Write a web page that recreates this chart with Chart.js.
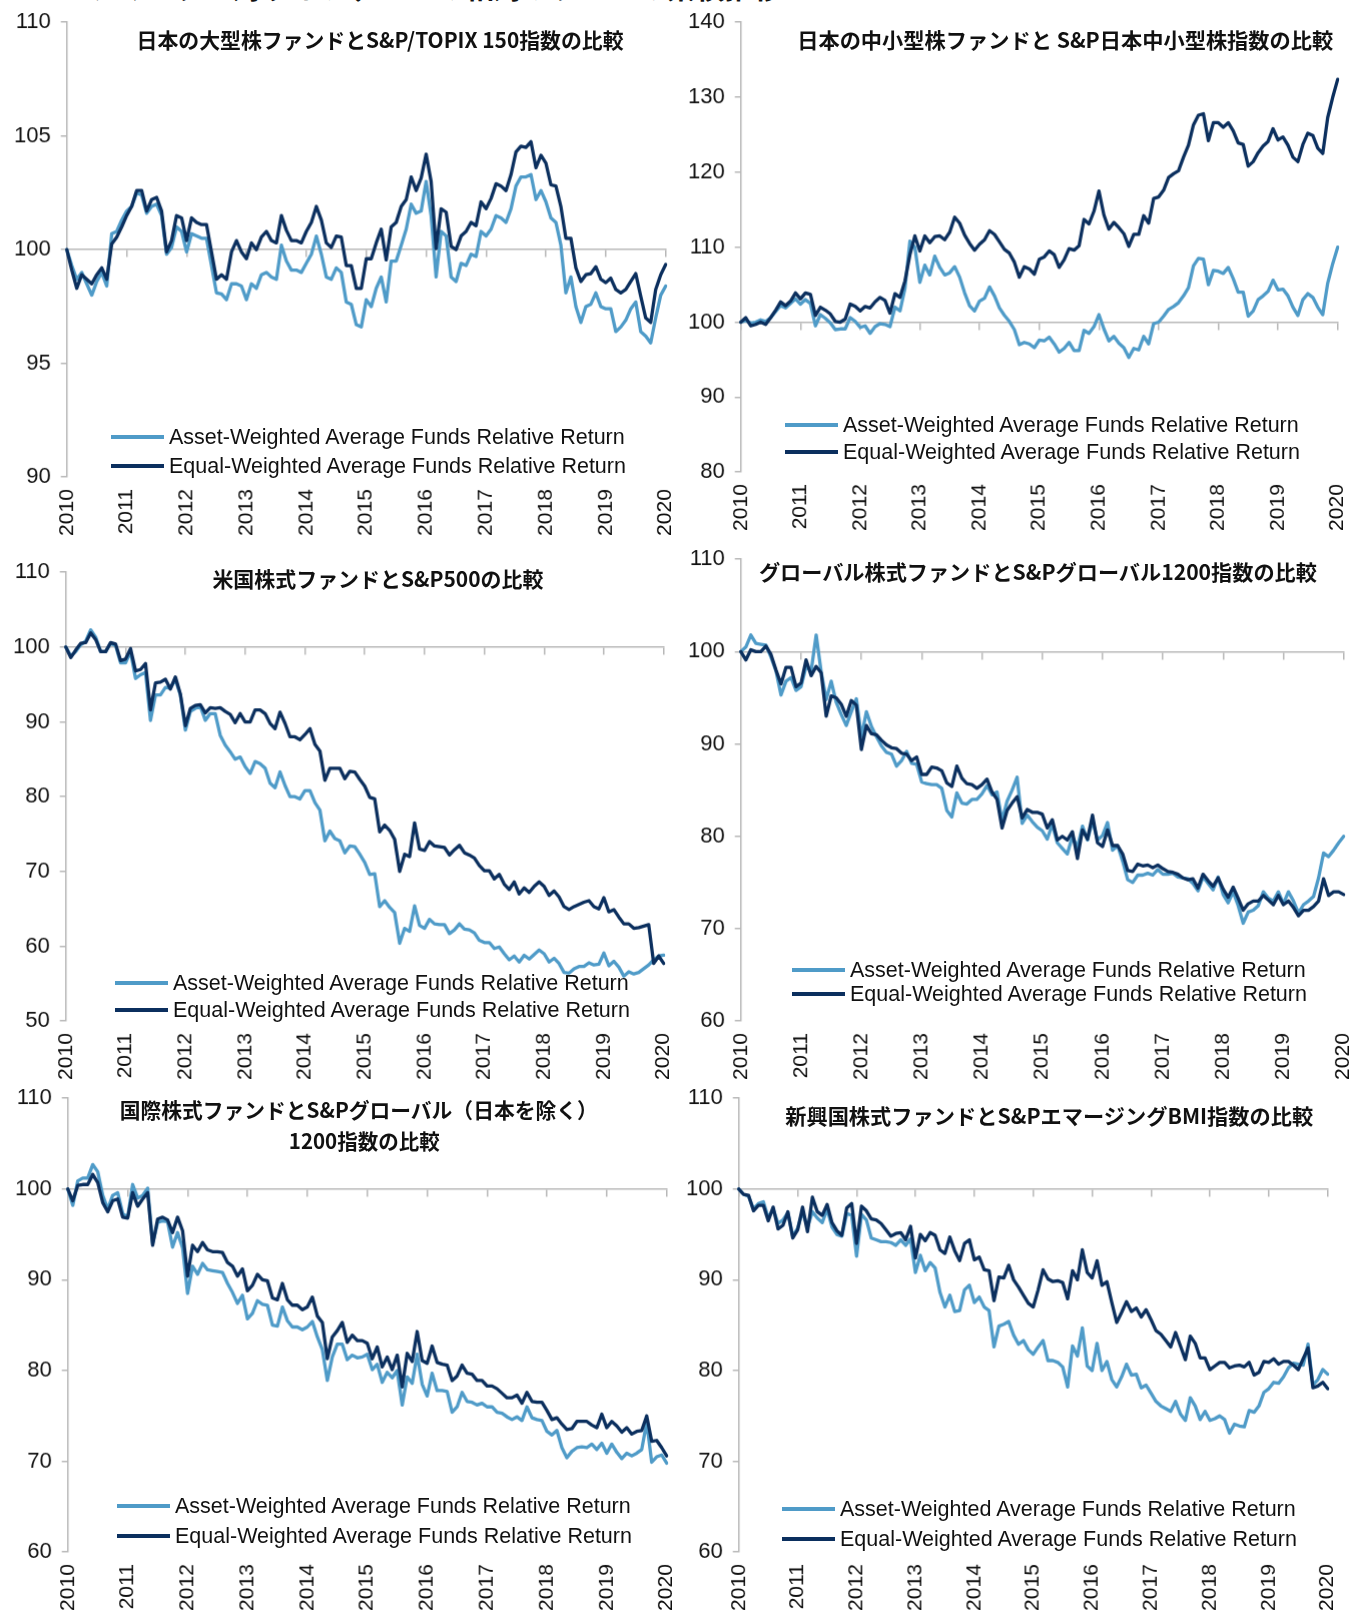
<!DOCTYPE html>
<html lang="ja">
<head>
<meta charset="utf-8">
<title>ファンドと指数の比較</title>
<script src="https://cdn.jsdelivr.net/npm/chart.js@4.4.1/dist/chart.umd.min.js"></script>
<style>
  html, body { margin: 0; padding: 0; background: #fff; }
  body { position: relative; width: 1356px; height: 1610px; overflow: hidden; font-family: "Liberation Sans", Arial, sans-serif; }
  .panel { position: absolute; }
  .panel canvas { display: block; }
  .title { position: absolute; font-family: "Noto Sans CJK JP", sans-serif; font-weight: 700; font-size: 21px; line-height: 1; color: #111; white-space: nowrap; }
  .leg { position: absolute; height: 26px; display: flex; align-items: center; white-space: nowrap; font-size: 21.5px; color: #111; }
  .leg i { display: inline-block; width: 53px; height: 4px; margin-right: 5px; }
  .header { position: absolute; left: 30px; top: -28px; font-family: "Noto Sans CJK JP", sans-serif; font-weight: 700; font-size: 29px; line-height: 1; color: #111; white-space: nowrap; }
</style>
</head>
<body>
<div class="header">ベンチマークに対するファンドの相対リターンの累積推移</div>
<script>
// ---------------------------------------------------------------
// データ（2010年1月〜2020年1月、月次、2010年1月=100）
// ---------------------------------------------------------------
const years = ['2010', '2011', '2012', '2013', '2014', '2015', '2016', '2017', '2018', '2019', '2020'];

// 日本の大型株
const lgAsset = [
  100, 99.3, 98.7, 99.0, 98.5, 98.0, 98.6, 99.0, 98.4, 100.7, 100.8, 101.3,
  101.7, 101.9, 102.5, 102.4, 101.6, 101.9, 102.0, 101.5, 99.8, 100.1, 101.0, 100.8,
  99.9, 100.7, 100.6, 100.5, 100.5, 99.3, 98.1, 98.05, 97.8, 98.5, 98.5, 98.4,
  97.8, 98.5, 98.3, 98.9, 99.0, 98.8, 98.7, 100.2, 99.5, 99.1, 99.1, 99.0,
  99.4, 99.8, 100.6, 99.8, 98.8, 98.7, 99.2, 99.0, 97.7, 97.6, 96.7, 96.6,
  97.8, 97.5, 98.3, 98.8, 97.7, 99.5, 99.5, 100.2, 100.9, 102.0, 101.6, 101.7,
  103.0, 101.5, 98.8, 100.8, 100.6, 98.8, 98.6, 99.4, 99.3, 99.8, 99.7, 100.8,
  100.6, 100.9, 101.5, 101.4, 101.2, 101.8, 102.8, 103.2, 103.2, 103.3, 102.2, 102.6,
  102.1, 101.4, 101.2, 100.2, 98.1, 98.8, 97.5, 96.8, 97.5, 97.6, 98.1, 97.5,
  97.4, 97.4, 96.4, 96.6, 96.9, 97.4, 97.7, 96.4, 96.2, 95.9, 97.0, 98.0,
  98.4
];
const lgEqual = [
  100, 99.1, 98.3, 98.9, 98.7, 98.5, 98.9, 99.2, 98.7, 100.25, 100.55, 101.0,
  101.5, 101.9, 102.6, 102.6, 101.7, 102.2, 102.3, 101.7, 99.9, 100.4, 101.5, 101.4,
  100.4, 101.4, 101.2, 101.1, 101.1, 99.9, 98.7, 98.9, 98.7, 99.9, 100.4, 99.9,
  99.6, 100.3, 100.0, 100.55, 100.8, 100.4, 100.3, 101.5, 100.85, 100.4, 100.4, 100.3,
  100.8, 101.2, 101.9, 101.3, 100.3, 100.1, 100.6, 100.55, 99.3, 99.3, 98.3, 98.3,
  99.6, 99.6, 100.3, 100.9, 99.55, 101.0, 101.2, 101.9, 102.2, 103.2, 102.6, 103.15,
  104.2, 103.0, 100.05, 101.8, 101.65, 100.15, 100.0, 100.6, 100.8, 101.2, 101.05, 102.1,
  101.8, 102.25, 102.9, 102.8, 102.6, 103.3, 104.3, 104.55, 104.5, 104.75, 103.6, 104.15,
  103.8, 102.85, 102.8, 101.9, 100.5, 100.5, 99.2, 98.6, 98.9, 98.95, 99.25, 98.7,
  98.55, 98.75, 98.25, 98.1, 98.25, 98.6, 98.95, 97.95, 97.0, 96.8, 98.25, 98.9,
  99.35
];

// 日本の中小型株
const smAsset = [
  100, 100.2, 99.9, 100.0, 100.3, 100.1, 100.6, 101.4, 102.2, 101.9, 102.5, 103.1,
  102.4, 103.0, 102.5, 99.5, 101.0, 100.5, 99.9, 99.0, 99.1, 99.1, 100.6, 100.1,
  99.3, 99.5, 98.5, 99.4, 99.8, 99.7, 99.4, 102.0, 101.5, 104.5, 110.8, 110.0,
  105.3, 107.6, 106.3, 108.8, 107.3, 106.3, 106.6, 107.4, 106.0, 103.9, 102.2, 101.5,
  102.8, 103.2, 104.7, 103.5, 101.9, 100.9, 100.1, 99.0, 97.0, 97.3, 97.1, 96.6,
  97.6, 97.5, 98.0, 97.1, 96.0, 96.5, 97.3, 96.2, 96.2, 98.9, 98.5, 99.4,
  101.0, 99.1, 97.5, 98.1, 97.2, 96.6, 95.3, 96.5, 96.3, 98.1, 97.1, 99.8,
  100.0, 100.8, 101.7, 102.1, 102.6, 103.5, 104.6, 107.5, 108.5, 108.4, 105.0, 106.9,
  106.8, 106.5, 107.3, 105.8, 104.0, 104.0, 100.8, 101.5, 103.0, 103.5, 104.1, 105.6,
  104.3, 104.4, 103.5, 102.0, 100.9, 103.0, 103.8, 103.3, 102.0, 101.0, 105.2, 107.8,
  110.0
];
const smEqual = [
  100, 100.6, 99.5, 99.7, 100.0, 99.7, 100.6, 101.6, 102.7, 102.2, 102.8, 103.9,
  103.1, 103.9, 103.7, 100.9, 102.0, 101.6, 101.1, 100.1, 100.0, 100.4, 102.4, 102.1,
  101.5, 102.1, 101.9, 102.7, 103.3, 102.9, 101.2, 103.8, 103.3, 105.5, 109.0, 111.5,
  109.5, 111.5, 110.6, 111.4, 111.5, 111.0, 112.0, 114.0, 113.2, 111.6, 110.5, 109.6,
  110.4, 111.0, 112.2, 111.7, 110.7, 109.7, 109.2, 108.0, 106.0, 107.4, 107.1, 106.4,
  108.4, 108.7, 109.5, 109.0, 107.3, 108.3, 109.8, 109.6, 110.2, 113.7, 113.1, 114.8,
  117.5, 114.3, 112.4, 113.3, 112.6, 111.8, 110.1, 111.7, 111.7, 114.2, 113.2, 116.5,
  116.7, 117.6, 119.3, 119.8, 120.2, 122.0, 123.6, 126.3, 127.6, 127.8, 124.2, 126.6,
  126.6, 126.0, 126.6, 125.5, 123.9, 123.7, 120.8, 121.4, 122.6, 123.5, 124.1, 125.8,
  124.3, 124.7, 123.6, 122.0, 121.4, 123.7, 125.2, 124.9, 123.2, 122.5, 127.3, 130.0,
  132.4
];

// 米国株式
const usAsset = [
  100, 98.8, 99.4, 100.3, 100.8, 102.3, 101.3, 99.4, 99.4, 100.5, 100.2, 97.9,
  97.9, 99.4, 95.8, 96.3, 96.6, 90.2, 93.6, 93.6, 94.6, 94.5, 95.7, 93.6,
  88.9, 91.4, 91.8, 92.1, 90.2, 91.1, 91.1, 88.2, 86.9, 86.0, 85.0, 85.3,
  84.0, 83.1, 84.7, 84.4, 83.8, 81.8, 81.2, 83.3, 81.5, 80.0, 80.0, 79.7,
  80.8, 80.8, 79.2, 78.2, 74.1, 75.4, 74.4, 74.1, 72.5, 73.4, 73.3, 72.3,
  71.2, 69.6, 69.7, 65.3, 66.1, 65.2, 64.5, 60.4, 62.4, 62.0, 65.4, 62.8,
  62.4, 63.6, 63.0, 62.9, 62.9, 61.7, 62.2, 63.0, 62.3, 62.2, 61.8, 60.8,
  60.5, 60.5, 59.7, 59.9, 59.0, 58.2, 58.7, 57.9, 58.8, 58.3, 58.9, 59.5,
  59.0, 57.9, 58.4, 57.7, 56.5, 56.4, 57.0, 57.3, 57.3, 57.8, 57.5, 57.6,
  59.1, 57.4, 58.0, 57.2, 56.0, 56.6, 56.3, 56.5, 57.0, 57.5, 58.2, 58.7,
  58.8
];
const usEqual = [
  100, 98.6, 99.6, 100.5, 100.6, 101.9, 101.0, 99.4, 99.4, 100.6, 100.4, 98.2,
  98.4, 99.8, 96.8, 97.0, 97.8, 91.6, 95.2, 95.3, 95.7, 94.4, 96.0, 93.7,
  89.5, 91.8, 92.2, 92.3, 91.2, 91.9, 91.8, 91.9, 91.4, 91.0, 89.9, 91.1,
  90.0, 90.0, 91.6, 91.6, 91.1, 89.8, 89.1, 91.3, 89.8, 88.0, 88.0, 87.6,
  88.3, 89.1, 87.0, 86.1, 82.2, 83.8, 83.8, 83.8, 82.4, 83.4, 83.3, 82.3,
  81.4, 79.9, 79.7, 75.3, 76.2, 75.5, 74.3, 70.0, 72.3, 72.0, 76.5, 73.0,
  72.8, 74.0, 73.4, 73.3, 73.2, 72.2, 72.9, 73.5, 72.5, 72.2, 71.8, 70.8,
  70.1, 70.1, 69.0, 69.6, 68.3, 67.6, 68.6, 67.0, 67.8, 67.2, 68.0, 68.6,
  68.0, 66.8, 67.4, 66.6, 65.3, 64.9, 65.3, 65.6, 65.9, 66.1, 65.3, 65.0,
  66.5, 64.6, 64.9, 63.9, 63.0, 63.0, 62.4, 62.5, 62.7, 62.9, 57.7, 58.7,
  57.7
];

// グローバル株式
const glAsset = [
  100, 100.5, 101.8, 100.9, 100.8, 100.7, 99.4, 97.9, 95.3, 96.8, 97.2, 95.8,
  96.2, 98.4, 97.9, 101.8, 97.8, 94.8, 96.8, 94.5, 93.2, 92.0, 93.5, 94.9,
  90.8, 93.5, 91.9, 90.8, 89.8, 89.1, 88.9, 87.6, 88.2, 89.2, 87.9, 87.8,
  85.9, 85.7, 85.6, 85.6, 85.2, 82.8, 82.1, 84.7, 83.6, 83.5, 84.0, 84.0,
  84.6, 85.5, 84.5, 84.8, 81.7, 83.8, 85.0, 86.4, 81.4, 82.3, 81.6, 81.0,
  80.6, 79.7, 81.3, 79.3, 78.7, 78.1, 80.0, 78.8, 81.1, 79.6, 81.7, 79.6,
  80.1, 81.5, 78.5, 79.0, 77.3, 75.3, 75.0, 75.8, 75.8, 76.0, 75.8, 76.4,
  75.9, 75.9, 76.0, 75.6, 75.5, 75.4, 74.9, 74.1, 75.6, 74.9, 74.2, 75.6,
  73.7, 72.8, 74.0, 72.5, 70.6, 71.8, 72.0, 72.5, 74.0, 73.3, 73.0, 74.0,
  72.7, 74.0, 73.0, 71.7, 72.6, 73.0, 73.5, 75.5, 78.2, 77.8, 78.5, 79.3,
  80.0
];
const glEqual = [
  100, 99.1, 100.2, 100.0, 100.0, 100.6, 99.7, 98.0, 96.5, 98.3, 98.3, 96.2,
  96.6, 99.1, 97.4, 98.4, 97.7, 93.0, 95.2, 95.0, 94.3, 93.0, 94.7, 94.2,
  89.4, 92.0, 91.1, 91.0, 90.4, 89.9, 89.6, 89.5, 89.0, 88.9, 88.2, 88.6,
  86.7, 86.7, 87.5, 87.4, 87.1, 85.8, 85.4, 87.6, 86.3, 85.7, 85.6, 85.2,
  85.6, 86.2, 84.8, 84.0, 80.9, 82.8, 83.6, 84.3, 82.0, 82.9, 82.6, 82.6,
  82.4, 80.9, 81.8, 79.6, 80.0, 79.6, 80.5, 77.6, 80.7, 79.7, 82.3, 79.3,
  78.9, 80.7, 79.0, 79.0, 78.1, 76.3, 76.2, 77.0, 76.8, 76.9, 76.6, 76.9,
  76.5, 76.2, 76.1, 75.9, 75.5, 75.3, 75.4, 74.4, 75.9, 75.2, 74.6, 75.5,
  74.3, 73.4, 74.5, 73.3, 72.0, 72.7, 73.0, 73.0, 73.6, 73.1, 72.6, 73.6,
  72.6, 73.0, 72.3, 71.4, 72.0, 72.0, 72.4, 73.0, 75.4, 73.6, 74.0, 74.0,
  73.7
];

// 国際株式（日本を除く）
const intlAsset = [
  100, 98.2, 100.9, 101.2, 101.2, 102.7, 101.9, 99.3, 97.8, 99.3, 99.6, 97.3,
  96.9, 100.5, 99.0, 99.3, 100.1, 94.0, 96.3, 96.5, 96.4, 93.6, 95.2, 93.5,
  88.5, 91.5, 90.6, 91.8, 91.1, 91.0, 90.9, 90.8, 89.6, 88.6, 87.4, 88.3,
  85.7, 86.3, 87.7, 87.3, 87.2, 85.0, 84.9, 87.0, 85.5, 84.8, 84.8, 84.5,
  84.8, 85.4, 83.7, 82.3, 78.9, 81.5, 82.9, 82.9, 81.2, 81.7, 81.4, 81.5,
  81.8, 80.1, 80.7, 78.7, 79.8, 79.2, 80.0, 76.2, 79.3, 78.6, 81.8, 78.5,
  77.2, 79.7, 77.8, 77.8, 77.7, 75.4, 76.0, 77.6, 76.6, 76.5, 76.2, 76.4,
  76.0, 76.0, 75.4, 75.3, 74.9, 74.6, 74.9, 74.5, 76.0, 74.8, 74.6, 74.5,
  73.3, 72.9, 73.4, 71.5, 70.4, 71.1, 71.5, 71.6, 71.5, 71.9, 71.3, 72.0,
  70.9, 71.9, 71.0, 70.3, 70.9, 70.6, 70.9, 71.3, 74.3, 69.9, 70.5, 70.7,
  69.8
];
const intlEqual = [
  100, 98.7, 100.4, 100.5, 100.5, 101.6, 100.7, 98.5, 97.5, 98.7, 98.9, 96.9,
  96.8, 99.6, 98.1, 98.9, 99.6, 93.8, 96.7, 96.9, 96.6, 95.2, 96.9, 95.4,
  90.4, 93.8, 93.1, 94.1, 93.3, 93.1, 93.1, 93.0, 91.9, 91.5, 90.4, 91.2,
  88.8, 89.4, 90.6, 90.0, 89.9, 88.0, 87.8, 89.6, 87.8, 87.2, 87.2, 86.7,
  87.0, 88.1, 86.0, 85.3, 81.3, 83.7, 84.4, 85.3, 83.1, 83.9, 83.3, 83.3,
  83.0, 81.3, 82.6, 80.4, 81.5, 80.1, 81.7, 78.2, 81.9, 81.0, 84.3, 81.1,
  80.8, 82.7, 80.9, 80.7, 80.6, 78.9, 79.4, 80.6, 79.7, 79.6, 78.9, 78.9,
  78.3, 78.3, 78.0, 77.5, 77.0, 77.0, 77.3, 76.4, 77.6, 76.6, 76.5, 76.5,
  75.6, 74.6, 74.8, 74.1, 73.5, 73.6, 74.4, 74.4, 74.4, 74.0, 73.7, 75.2,
  73.7, 74.4, 73.9, 73.2, 73.7, 73.0, 73.3, 73.4, 75.0, 72.2, 72.3, 71.5,
  70.6
];

// 新興国株式
const emAsset = [
  100, 99.4, 99.2, 97.8, 98.4, 98.6, 96.8, 97.8, 96.2, 96.6, 97.4, 94.8,
  95.7, 97.5, 95.8, 97.5, 96.8, 96.3, 97.8, 95.8, 95.0, 94.8, 97.3, 97.1,
  92.6, 97.2, 96.6, 94.6, 94.4, 94.2, 94.2, 94.1, 93.8, 94.4, 93.8, 94.5,
  90.8, 92.7, 91.0, 91.9, 91.3, 88.6, 87.0, 88.3, 86.5, 86.6, 88.9, 89.4,
  87.5, 88.1, 87.0, 86.6, 82.6, 84.9, 85.1, 85.4, 83.9, 82.9, 83.3, 82.3,
  81.8, 82.6, 83.3, 81.1, 81.1, 80.9, 80.4, 78.2, 82.7, 81.6, 84.7, 80.5,
  80.0, 83.0, 80.0, 81.0, 79.0, 78.2, 79.3, 80.7, 79.5, 79.6, 78.1, 78.4,
  77.5, 76.6, 76.1, 75.8, 75.5, 76.6, 75.2, 74.5, 77.0, 76.1, 74.6, 75.5,
  74.5, 74.7, 75.0, 74.6, 73.1, 74.1, 73.9, 73.8, 75.6, 75.4, 76.1, 77.6,
  78.0, 78.7, 78.6, 79.3, 80.3, 80.8, 80.7, 80.6, 82.9, 78.4, 79.0, 80.1,
  79.6
];
const emEqual = [
  100, 99.4, 99.3, 97.6, 98.2, 98.2, 96.5, 98.0, 95.6, 96.0, 97.5, 94.6,
  95.5, 98.0, 95.3, 99.1, 97.5, 97.1, 98.3, 96.3, 95.4, 94.9, 97.9, 98.4,
  94.0, 98.1, 97.6, 96.7, 96.6, 96.2, 95.5, 94.8, 95.1, 95.2, 94.4, 95.9,
  92.4, 95.0, 94.3, 95.2, 94.9, 93.3, 92.9, 94.7, 93.2, 92.1, 94.0, 94.4,
  92.2, 92.5, 91.1, 91.0, 87.7, 90.3, 90.2, 91.6, 90.0, 89.2, 88.3, 87.4,
  87.0, 88.9, 91.1, 90.1, 89.8, 89.9, 89.7, 87.9, 91.0, 90.0, 93.3, 90.8,
  90.2, 92.1, 89.4, 89.8, 87.5, 85.3, 86.4, 87.6, 86.5, 86.9, 85.9, 86.7,
  85.6, 84.4, 84.0, 83.3, 82.6, 84.2, 82.7, 81.2, 83.8, 83.0, 81.4, 81.4,
  80.1, 80.5, 80.9, 80.9, 80.3, 80.5, 80.6, 80.4, 80.9, 79.5, 79.8, 81.0,
  80.9, 81.3, 80.7, 81.0, 81.0, 80.6, 80.1, 81.3, 82.5, 78.1, 78.3, 78.7,
  78.0
];

const seriesNames = ['Asset-Weighted Average Funds Relative Return', 'Equal-Weighted Average Funds Relative Return'];

// 月次カテゴリ（各年12か月、最後は2020年1月のみ）
const monthLabels = [];
years.forEach((y, i) => {
  const n = i < years.length - 1 ? 12 : 1;
  for (let m = 1; m <= n; m++) monthLabels.push(y + '-' + String(m).padStart(2, '0'));
});

// ---------------------------------------------------------------
// 見た目
// ---------------------------------------------------------------
const LIGHT = '#4f9bc8';
const DARK = '#0b2f5e';
const GREY = '#b8b8b8';

const panels = [
  { area: [67, 22, 665, 476], min: 90, max: 110, step: 5, asset: lgAsset, equal: lgEqual,
    titles: [['日本の大型株ファンドとS&P/TOPIX 150指数の比較', 380, 39, 487]], legend: [111, 437, 466] },
  { area: [741, 22, 1337, 471], min: 80, max: 140, step: 10, asset: smAsset, equal: smEqual,
    titles: [['日本の中小型株ファンドと S&P日本中小型株指数の比較', 1065, 39, 536]], legend: [785, 425, 452] },
  { area: [66, 572, 663, 1020], min: 50, max: 110, step: 10, asset: usAsset, equal: usEqual,
    titles: [['米国株式ファンドとS&P500の比較', 378, 578, 331]], legend: [115, 983, 1010] },
  { area: [741, 559, 1343, 1020], min: 60, max: 110, step: 10, asset: glAsset, equal: glEqual,
    titles: [['グローバル株式ファンドとS&Pグローバル1200指数の比較', 1038, 571, 558]], legend: [792, 970, 994] },
  { area: [68, 1098, 666, 1551], min: 60, max: 110, step: 10, asset: intlAsset, equal: intlEqual,
    titles: [['国際株式ファンドとS&Pグローバル（日本を除く）', 359, 1109, 478], ['1200指数の比較', 364, 1140, 151]], legend: [117, 1506, 1536] },
  { area: [739, 1098, 1327, 1551], min: 60, max: 110, step: 10, asset: emAsset, equal: emEqual,
    titles: [['新興国株式ファンドとS&PエマージングBMI指数の比較', 1049, 1115, 528]], legend: [782, 1509, 1539] }
];

function addTitle(t) {
  const el = document.createElement('div');
  el.className = 'title';
  el.textContent = t[0];
  document.body.appendChild(el);
  const w = el.getBoundingClientRect().width;
  el.style.left = (t[1] - w / 2) + 'px';
  el.style.top = (t[2] - 10.5) + 'px';
  el.style.transform = 'scaleX(' + (t[3] / w) + ')';
}

function addLegend(p) {
  [LIGHT, DARK].forEach((c, k) => {
    const row = document.createElement('div');
    row.className = 'leg';
    row.style.left = p.legend[0] + 'px';
    row.style.top = (p.legend[k + 1] - 13) + 'px';
    row.innerHTML = '<i style="background:' + c + '"></i><span>' + seriesNames[k] + '</span>';
    document.body.appendChild(row);
  });
}

function buildPanel(p) {
  const box = document.createElement('div');
  box.className = 'panel';
  const cv = document.createElement('canvas');
  const plotW = p.area[2] - p.area[0];
  const plotH = p.area[3] - p.area[1];
  cv.width = plotW + 100;
  cv.height = plotH + 100;
  box.appendChild(cv);
  document.body.appendChild(box);

  const chart = new Chart(cv, {
    type: 'line',
    data: {
      labels: monthLabels,
      datasets: [
        { label: seriesNames[0], data: p.asset, borderColor: LIGHT, order: 2 },
        { label: seriesNames[1], data: p.equal, borderColor: DARK, order: 1 }
      ]
    },
    options: {
      responsive: false,
      maintainAspectRatio: false,
      animation: false,
      layout: { padding: { top: 14, right: 14 } },
      elements: {
        point: { radius: 0 },
        line: { borderWidth: 3.3, tension: 0, borderJoinStyle: 'round', borderCapStyle: 'round' }
      },
      plugins: { legend: { display: false }, tooltip: { enabled: false } },
      scales: {
        x: {
          ticks: {
            autoSkip: false, maxRotation: 90, minRotation: 90, padding: 12,
            color: '#111', font: { family: 'Liberation Sans', size: 21 },
            callback: (v, i) => (i % 12 === 0 ? years[i / 12] : null)
          },
          grid: { display: false, drawTicks: false },
          border: { display: false }
        },
        x2: {
          type: 'category',
          position: { y: 100 },
          ticks: { display: false },
          grid: {
            display: true, drawOnChartArea: false, drawTicks: true, tickLength: 7, lineWidth: 1.5,
            color: ctx => (ctx.index % 12 === 0 ? GREY : 'rgba(0,0,0,0)')
          },
          border: { display: true, color: GREY, width: 1.5 }
        },
        y: {
          min: p.min, max: p.max,
          ticks: { stepSize: p.step, padding: 10, color: '#111', font: { family: 'Liberation Sans', size: 22 } },
          grid: { display: true, drawOnChartArea: false, drawTicks: true, tickLength: 6, color: GREY, lineWidth: 1.5 },
          border: { display: true, color: GREY, width: 1.5 }
        }
      }
    }
  });

  // 描画領域を目標位置に合わせる
  const ca = chart.chartArea;
  chart.resize(ca.left + plotW + (chart.width - ca.right), ca.top + plotH + (chart.height - ca.bottom));
  const ca2 = chart.chartArea;
  box.style.left = (p.area[0] - ca2.left) + 'px';
  box.style.top = (p.area[1] - ca2.top) + 'px';

  p.titles.forEach(addTitle);
  addLegend(p);
}

panels.forEach(buildPanel);
</script>
</body>
</html>
